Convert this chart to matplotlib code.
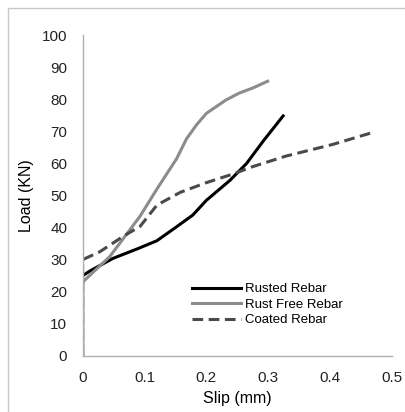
import matplotlib
matplotlib.use("Agg")
import matplotlib.pyplot as plt
from matplotlib.patches import Rectangle

# slip (mm) vs load (kN)
rusted_slip = [0, 0, 0.012, 0.049, 0.09, 0.12, 0.15, 0.178, 0.2, 0.238, 0.265, 0.292, 0.324]
rusted_load = [0, 25, 26.5, 30.4, 33.5, 35.9, 40, 43.9, 48.5, 54.7, 60, 67, 74.8]

free_slip = [0, 0, 0.044, 0.093, 0.12, 0.152, 0.168, 0.184, 0.2, 0.232, 0.253, 0.275, 0.299]
free_load = [0, 23, 31, 43.6, 52, 61.5, 67.7, 72, 75.6, 79.8, 81.9, 83.5, 85.6]

coated_slip = [0, 0, 0.028, 0.065, 0.093, 0.12, 0.158, 0.2, 0.243, 0.275, 0.329, 0.404, 0.468]
coated_load = [0, 30, 32.5, 37.2, 40.4, 47, 51, 54, 56.7, 59, 62.3, 65.9, 69.6]

x_ticks = [0, 0.1, 0.2, 0.3, 0.4, 0.5]
y_ticks = [0, 10, 20, 30, 40, 50, 60, 70, 80, 90, 100]

plt.rcParams["font.family"] = ["Liberation Sans", "DejaVu Sans"]

fig = plt.figure(figsize=(4.05, 4.12), dpi=100, facecolor="white")
ax = fig.add_axes([0.204, 0.136, 0.764, 0.779])

# light frame around the chart area
fig.patches.append(Rectangle((8 / 405, -0.01), 1.0, 1 - 8 / 412 + 0.01,
                             transform=fig.transFigure, fill=False,
                             edgecolor="#c8c8c8", linewidth=1.0))

ax.plot(rusted_slip, rusted_load, color="black", linewidth=2.2, label="Rusted Rebar")
ax.plot(free_slip, free_load, color="#8c8c8c", linewidth=2.2, label="Rust Free Rebar")
ax.plot(coated_slip, coated_load, color="#4a4a4a", linewidth=2.2,
        linestyle=(0, (3.5, 1.8)), label="Coated Rebar")

ax.set_xlim(0, 0.5)
ax.set_ylim(0, 100)
ax.set_xticks(x_ticks)
ax.set_xticklabels([f"{t:g}" for t in x_ticks])
ax.set_yticks(y_ticks)
ax.tick_params(length=0, labelsize=11, colors="#222222")
ax.tick_params(axis="y", pad=11)
ax.tick_params(axis="x", pad=11)

for side in ["top", "right"]:
    ax.spines[side].set_visible(False)
for side in ["left", "bottom"]:
    ax.spines[side].set_color("#b0b0b0")
    ax.spines[side].set_linewidth(1.0)

ax.set_xlabel("Slip (mm)", fontsize=11.5, labelpad=4)
ax.set_ylabel("Load (KN)", fontsize=11.5, labelpad=6)

ax.legend(loc="upper left", bbox_to_anchor=(192 / 405, 1 - 283 / 412),
          bbox_transform=fig.transFigure, frameon=False, fontsize=9.5,
          handlelength=3.7, handletextpad=0.3, labelspacing=0.25,
          borderpad=0, borderaxespad=0)

fig.savefig("out.png", dpi=100, facecolor="white")
